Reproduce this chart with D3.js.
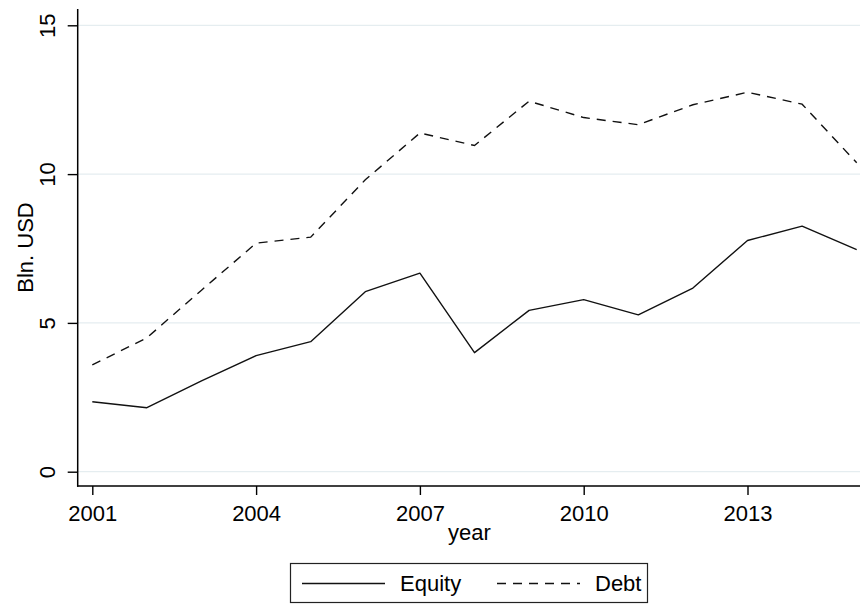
<!DOCTYPE html>
<html>
<head>
<meta charset="utf-8">
<script src="https://cdn.jsdelivr.net/npm/d3@7"></script>
<style>
  html, body { margin: 0; padding: 0; background: #fff; }
  svg { display: block; }
  text { font-family: "Liberation Sans", Arial, sans-serif; fill: #000; }
</style>
</head>
<body>
<svg id="chart" width="860" height="605"></svg>
<script>
// ---- data ----
const years  = [2001, 2002, 2003, 2004, 2005, 2006, 2007, 2008, 2009, 2010, 2011, 2012, 2013, 2014, 2015];
const equity = [2.35, 2.15, 3.05, 3.9, 4.37, 6.05, 6.67, 4.0, 5.42, 5.78, 5.27, 6.17, 7.77, 8.25, 7.46];
const debt   = [3.59, 4.5, 6.1, 7.68, 7.88, 9.81, 11.38, 10.96, 12.45, 11.9, 11.66, 12.33, 12.75, 12.35, 10.38];
const xTicks = [2001, 2004, 2007, 2010, 2013];
const yTicks = [0, 5, 10, 15];
const seriesNames = ["Equity", "Debt"];

// ---- layout ----
const W = 860, H = 605;
const axisX = 77.7, axisY = 486, topY = 9, rightX = 860;
const FS = 22;

const svg = d3.select("#chart");

const x = d3.scaleLinear().domain([2001, 2015]).range([92.3, 856.7]);
const y = d3.scaleLinear().domain([0, 15]).range([471.7, 25.3]);

// gridlines
svg.append("g").selectAll("line").data(yTicks).join("line")
  .attr("x1", axisX).attr("x2", rightX)
  .attr("y1", d => y(d)).attr("y2", d => y(d))
  .attr("stroke", "#e5edf0").attr("stroke-width", 1.2);

// series
const lineGen = d3.line().x((d, i) => x(years[i])).y(d => y(d));
svg.append("path").datum(equity)
  .attr("d", lineGen).attr("fill", "none")
  .attr("stroke", "#111").attr("stroke-width", 1.4).attr("stroke-linejoin", "round");
svg.append("path").datum(debt)
  .attr("d", lineGen).attr("fill", "none")
  .attr("stroke", "#111").attr("stroke-width", 1.4).attr("stroke-dasharray", "9,7");

// y axis
const gy = svg.append("g").attr("transform", `translate(${axisX},0)`)
  .call(d3.axisLeft(y).tickValues(yTicks).tickSize(10).tickFormat(d3.format("d")));
gy.select(".domain").remove();
gy.selectAll(".tick line").attr("stroke", "#000").attr("stroke-width", 1.4);
gy.selectAll(".tick text")
  .attr("x", null).attr("dy", null)
  .attr("text-anchor", "middle")
  .attr("transform", "translate(-22.5,0) rotate(-90)")
  .attr("y", 0)
  .style("font-size", FS + "px");
svg.append("line").attr("x1", axisX).attr("x2", axisX).attr("y1", topY).attr("y2", axisY + 0.7)
  .attr("stroke", "#000").attr("stroke-width", 1.5);

// x axis
const gx = svg.append("g").attr("transform", `translate(0,${axisY})`)
  .call(d3.axisBottom(x).tickValues(xTicks).tickSize(9).tickFormat(d3.format("d")));
gx.select(".domain").remove();
gx.selectAll(".tick line").attr("stroke", "#000").attr("stroke-width", 1.4);
gx.selectAll(".tick text").attr("dy", null).attr("y", 35)
  .attr("text-anchor", "middle").style("font-size", FS + "px");
svg.append("line").attr("x1", axisX - 0.7).attr("x2", rightX).attr("y1", axisY).attr("y2", axisY)
  .attr("stroke", "#000").attr("stroke-width", 1.5);

// axis titles
svg.append("text").attr("transform", `translate(33.3,${(topY + axisY) / 2}) rotate(-90)`)
  .attr("text-anchor", "middle").style("font-size", FS + "px").text("Bln. USD");
svg.append("text").attr("x", (axisX + rightX) / 2 + 0.5).attr("y", 539.5)
  .attr("text-anchor", "middle").style("font-size", FS + "px").text("year");

// legend
const lg = svg.append("g");
lg.append("rect").attr("x", 290.5).attr("y", 563.5).attr("width", 357).attr("height", 39)
  .attr("fill", "#fff").attr("stroke", "#222").attr("stroke-width", 1.2);
const items = [
  { name: seriesNames[0], x0: 302, dash: null },
  { name: seriesNames[1], x0: 497, dash: "9,7" }
];
items.forEach(it => {
  lg.append("line").attr("x1", it.x0).attr("x2", it.x0 + 83)
    .attr("y1", 583.5).attr("y2", 583.5)
    .attr("stroke", "#111").attr("stroke-width", 1.4)
    .attr("stroke-dasharray", it.dash);
  lg.append("text").attr("x", it.x0 + 98).attr("y", 590.5)
    .style("font-size", FS + "px").text(it.name);
});
</script>
</body>
</html>
